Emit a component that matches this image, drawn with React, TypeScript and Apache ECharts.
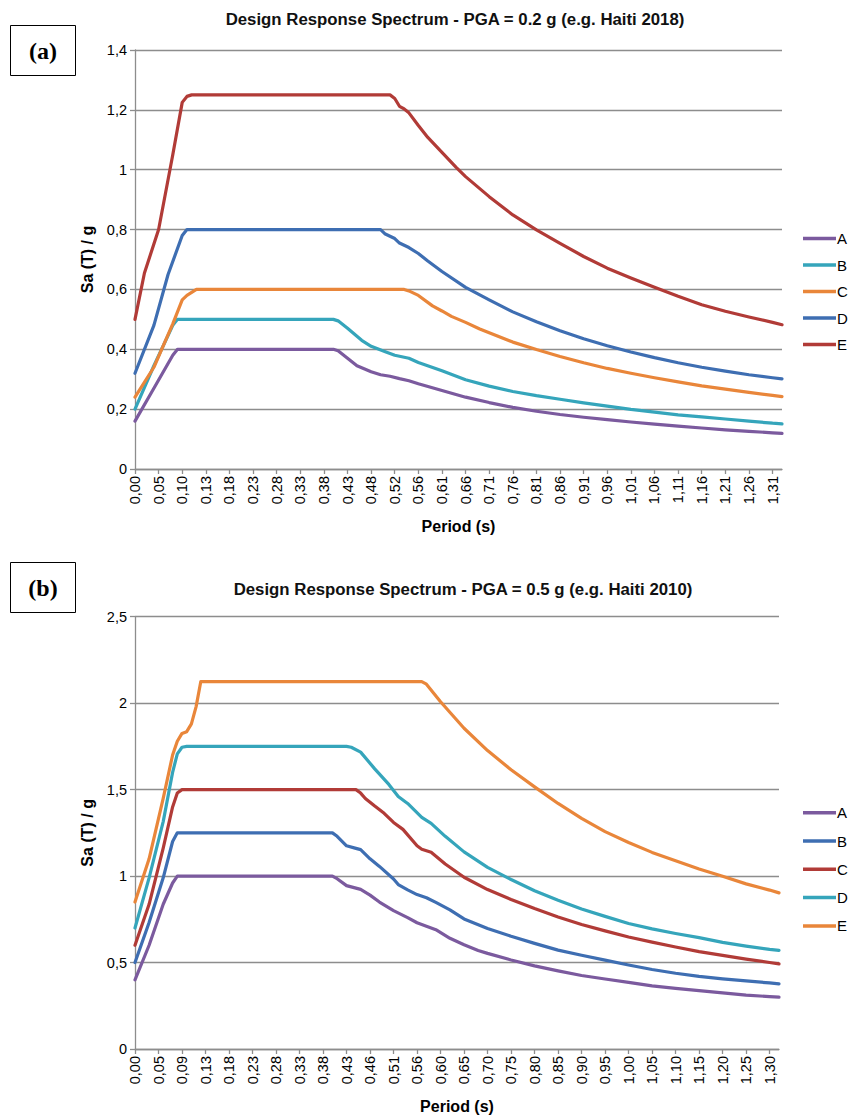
import React, { useEffect, useRef } from "react";
import * as echarts from "echarts";

// ---------- DATA ----------
const seriesNames = ["A", "B", "C", "D", "E"];

// period tick labels (one every 5 categories), chart (a) and chart (b)
const periodTicksA = ["0,00", "0,05", "0,10", "0,13", "0,18", "0,23", "0,28", "0,33", "0,38", "0,43", "0,48", "0,52", "0,56", "0,61", "0,66", "0,71", "0,76", "0,81", "0,86", "0,91", "0,96", "1,01", "1,06", "1,11", "1,16", "1,21", "1,26", "1,31"];
const periodTicksB = ["0,00", "0,05", "0,09", "0,13", "0,18", "0,23", "0,28", "0,33", "0,38", "0,43", "0,46", "0,51", "0,56", "0,60", "0,65", "0,70", "0,75", "0,80", "0,85", "0,90", "0,95", "1,00", "1,05", "1,10", "1,15", "1,20", "1,25", "1,30"];
const categoryCount = 138;
const categoriesPerTick = 5;

// Chart (a) PGA = 0.2 g : [category index, Sa/g]
const a_A = [[0, 0.16], [4, 0.27], [8, 0.38], [9, 0.4], [42, 0.4], [43, 0.395], [45, 0.37], [47, 0.345], [50, 0.325], [52, 0.315], [54, 0.31], [56, 0.302], [58, 0.295], [60, 0.285], [65, 0.262], [70, 0.24], [75, 0.222], [80, 0.206], [85, 0.193], [90, 0.182], [95, 0.173], [100, 0.165], [105, 0.157], [110, 0.15], [115, 0.143], [120, 0.137], [125, 0.131], [130, 0.126], [135, 0.121], [137, 0.119]];
const a_B = [[0, 0.2], [4, 0.345], [8, 0.48], [9, 0.5], [42, 0.5], [43, 0.495], [45, 0.47], [48, 0.43], [50, 0.41], [53, 0.392], [55, 0.38], [58, 0.37], [60, 0.356], [65, 0.328], [70, 0.298], [75, 0.277], [80, 0.259], [85, 0.245], [90, 0.233], [95, 0.221], [100, 0.21], [105, 0.199], [110, 0.19], [115, 0.181], [120, 0.174], [125, 0.167], [130, 0.16], [135, 0.153], [137, 0.151]];
const a_C = [[0, 0.24], [4, 0.34], [8, 0.485], [10, 0.565], [11, 0.58], [13, 0.6], [57, 0.6], [58, 0.595], [60, 0.58], [63, 0.545], [65, 0.528], [67, 0.51], [70, 0.49], [73, 0.468], [75, 0.455], [80, 0.424], [85, 0.399], [90, 0.376], [95, 0.355], [100, 0.336], [105, 0.32], [110, 0.305], [115, 0.291], [120, 0.278], [125, 0.267], [130, 0.256], [135, 0.246], [137, 0.242]];
const a_D = [[0, 0.32], [4, 0.48], [7, 0.65], [10, 0.78], [11, 0.8], [52, 0.8], [53, 0.785], [55, 0.77], [56, 0.755], [58, 0.74], [60, 0.72], [62, 0.695], [65, 0.66], [70, 0.607], [75, 0.565], [80, 0.525], [85, 0.492], [90, 0.462], [95, 0.435], [100, 0.412], [105, 0.391], [110, 0.372], [115, 0.355], [120, 0.34], [125, 0.327], [130, 0.315], [135, 0.305], [137, 0.301]];
const a_E = [[0, 0.5], [2, 0.655], [5, 0.8], [8, 1.05], [10, 1.225], [11, 1.245], [12, 1.25], [54, 1.25], [55, 1.238], [56, 1.212], [57, 1.203], [58, 1.19], [60, 1.148], [62, 1.108], [65, 1.058], [68, 1.008], [70, 0.977], [75, 0.91], [80, 0.849], [85, 0.799], [90, 0.754], [95, 0.71], [100, 0.671], [105, 0.638], [110, 0.607], [115, 0.577], [120, 0.549], [125, 0.527], [130, 0.508], [135, 0.49], [137, 0.482]];

// Chart (b) PGA = 0.5 g
const b_A = [[0, 0.4], [3, 0.6], [6, 0.837], [8, 0.96], [9, 1.0], [42, 1.0], [43, 0.985], [45, 0.945], [48, 0.923], [50, 0.89], [52, 0.85], [55, 0.8], [58, 0.76], [60, 0.73], [62, 0.71], [64, 0.69], [67, 0.64], [70, 0.603], [73, 0.57], [75, 0.553], [80, 0.515], [85, 0.481], [90, 0.452], [95, 0.425], [100, 0.405], [105, 0.385], [110, 0.365], [115, 0.351], [120, 0.338], [125, 0.325], [130, 0.312], [135, 0.303], [137, 0.3]];
const b_B = [[0, 0.5], [3, 0.732], [6, 0.99], [8, 1.2], [9, 1.25], [42, 1.25], [43, 1.23], [45, 1.175], [47, 1.16], [48, 1.153], [50, 1.1], [52, 1.056], [55, 0.983], [56, 0.951], [58, 0.92], [60, 0.893], [62, 0.875], [64, 0.848], [67, 0.805], [70, 0.752], [75, 0.697], [80, 0.652], [85, 0.611], [90, 0.572], [95, 0.542], [100, 0.514], [105, 0.486], [110, 0.46], [115, 0.438], [120, 0.42], [125, 0.406], [130, 0.394], [135, 0.382], [137, 0.377]];
const b_C = [[0, 0.6], [3, 0.837], [6, 1.162], [8, 1.4], [9, 1.48], [10, 1.5], [47, 1.5], [48, 1.48], [49, 1.449], [51, 1.405], [53, 1.363], [55, 1.31], [57, 1.27], [60, 1.175], [61, 1.155], [63, 1.138], [66, 1.07], [70, 0.993], [75, 0.922], [80, 0.865], [85, 0.812], [90, 0.763], [95, 0.72], [100, 0.683], [105, 0.648], [110, 0.618], [115, 0.59], [120, 0.563], [125, 0.541], [130, 0.52], [135, 0.5], [137, 0.492]];
const b_D = [[0, 0.7], [3, 0.99], [6, 1.315], [8, 1.6], [9, 1.707], [10, 1.745], [11, 1.75], [45, 1.75], [46, 1.745], [48, 1.717], [51, 1.62], [54, 1.53], [56, 1.46], [58, 1.42], [61, 1.34], [63, 1.305], [66, 1.23], [70, 1.14], [75, 1.05], [80, 0.98], [85, 0.915], [90, 0.86], [95, 0.81], [100, 0.767], [105, 0.726], [110, 0.695], [115, 0.668], [120, 0.644], [125, 0.617], [130, 0.595], [135, 0.576], [137, 0.57]];
const b_E = [[0, 0.85], [3, 1.1], [6, 1.449], [8, 1.7], [9, 1.78], [10, 1.825], [11, 1.835], [12, 1.88], [13, 1.98], [14, 2.125], [61, 2.125], [62, 2.11], [65, 2.008], [70, 1.855], [75, 1.726], [80, 1.615], [85, 1.516], [90, 1.42], [95, 1.334], [100, 1.257], [105, 1.194], [110, 1.137], [115, 1.089], [120, 1.041], [125, 0.999], [130, 0.955], [135, 0.919], [137, 0.903]];

// ---------- STYLE ----------
const PURPLE = "#7b5a9e";
const CYAN = "#35a5bb";
const ORANGE = "#e9863a";
const BLUE = "#3e6eb2";
const RED = "#b13b37";
const colorsA = [PURPLE, CYAN, ORANGE, BLUE, RED];
const colorsB = [PURPLE, BLUE, RED, CYAN, ORANGE];
const FONT = "'Liberation Sans', Arial, sans-serif";
const GRID_GRAY = "#8d8d8d";

function buildCategories(ticks: string[]) {
  return Array.from({ length: categoryCount }, (_, i) =>
    i % categoriesPerTick === 0 && ticks[i / categoriesPerTick] !== undefined
      ? ticks[i / categoriesPerTick]
      : ""
  );
}

function fmt(v: number) {
  return String(Number(v.toFixed(2))).replace(".", ",");
}

type Cfg = {
  title: string;
  titleX: number;
  titleY: number;
  tag: string;
  tagY: number;
  grid: { left: number; top: number; width: number; height: number };
  yMax: number;
  yInterval: number;
  ticks: string[];
  data: number[][][];
  colors: string[];
  legendTop: number;
  legendGap: number;
};

function buildOption(c: Cfg): any {
  return {
    animation: false,
    backgroundColor: "#ffffff",
    title: {
      text: c.title,
      left: c.titleX,
      top: c.titleY,
      textAlign: "center",
      padding: 0,
      textStyle: { fontFamily: FONT, fontSize: 16.8, fontWeight: "bold", color: "#111" },
    },
    graphic: [
      {
        type: "rect",
        shape: { x: 10.5, y: c.tagY + 0.5, width: 65, height: 50 },
        style: { fill: "#fff", stroke: "#000", lineWidth: 1 },
      },
      {
        type: "text",
        x: 43,
        y: c.tagY + 26,
        style: {
          text: c.tag,
          fill: "#000",
          font: "bold 24px 'Liberation Serif', 'DejaVu Serif', serif",
          textAlign: "center",
          textVerticalAlign: "middle",
        },
      },
    ],
    legend: {
      orient: "vertical",
      left: 803,
      top: c.legendTop,
      padding: 0,
      icon: "rect",
      itemWidth: 33,
      itemHeight: 3.5,
      itemGap: c.legendGap,
      selectedMode: false,
      data: seriesNames,
      textStyle: { fontFamily: FONT, fontSize: 15, color: "#000", padding: [0, 0, 0, -4] },
    },
    grid: { ...c.grid, containLabel: false },
    xAxis: {
      type: "category",
      data: buildCategories(c.ticks),
      boundaryGap: false,
      axisLine: { show: true, lineStyle: { color: GRID_GRAY, width: 1.3 } },
      axisTick: { show: true, interval: categoriesPerTick - 1, length: 5, lineStyle: { color: GRID_GRAY, width: 1.3 } },
      axisLabel: {
        interval: categoriesPerTick - 1,
        rotate: 90,
        margin: 7,
        fontFamily: FONT,
        fontSize: 14.5,
        color: "#000",
      },
      splitLine: { show: false },
      name: "Period (s)",
      nameLocation: "middle",
      nameGap: 49,
      nameTextStyle: { fontFamily: FONT, fontSize: 16, fontWeight: "bold", color: "#000" },
    },
    yAxis: {
      type: "value",
      min: 0,
      max: c.yMax,
      interval: c.yInterval,
      axisLine: { show: true, lineStyle: { color: GRID_GRAY, width: 1.3 } },
      axisTick: { show: true, length: 5, lineStyle: { color: GRID_GRAY, width: 1.3 } },
      axisLabel: { formatter: fmt, margin: 8, fontFamily: FONT, fontSize: 14.5, color: "#000" },
      splitLine: { show: true, lineStyle: { color: GRID_GRAY, width: 1.3 } },
      name: "Sa (T) / g",
      nameLocation: "middle",
      nameGap: 39,
      nameRotate: 90,
      nameTextStyle: { fontFamily: FONT, fontSize: 16, fontWeight: "bold", color: "#000" },
    },
    series: seriesNames.map((name, i) => ({
      name,
      type: "line",
      symbol: "none",
      data: c.data[i],
      lineStyle: { width: 3.2, color: c.colors[i], join: "round", cap: "round" },
      itemStyle: { color: c.colors[i] },
    })),
  };
}

const optionA = buildOption({
  title: "Design Response Spectrum - PGA = 0.2 g (e.g. Haiti 2018)",
  titleX: 455,
  titleY: 11,
  tag: "(a)",
  tagY: 25,
  grid: { left: 135, top: 50, width: 647, height: 419 },
  yMax: 1.4,
  yInterval: 0.2,
  ticks: periodTicksA,
  data: [a_A, a_B, a_C, a_D, a_E],
  colors: colorsA,
  legendTop: 231,
  legendGap: 11.5,
});

const optionB = buildOption({
  title: "Design Response Spectrum - PGA = 0.5 g (e.g. Haiti 2010)",
  titleX: 463,
  titleY: 36,
  tag: "(b)",
  tagY: 17,
  grid: { left: 135, top: 71.7, width: 644, height: 436 },
  yMax: 2.5,
  yInterval: 0.5,
  ticks: periodTicksB,
  data: [b_A, b_B, b_C, b_D, b_E],
  colors: colorsB,
  legendTop: 260.2,
  legendGap: 13.3,
});

function ChartBox({ option, top, height }: { option: any; top: number; height: number }) {
  const ref = useRef<HTMLDivElement>(null);
  useEffect(() => {
    if (!ref.current) return;
    const chart = echarts.init(ref.current, undefined, { renderer: "svg" });
    chart.setOption(option);
    return () => chart.dispose();
  }, [option]);
  return (
    <div
      ref={ref}
      style={{ position: "absolute", left: 0, top, width: 850, height, overflow: "hidden" }}
    />
  );
}

export default function App() {
  useEffect(() => {
    document.body.style.margin = "0";
  }, []);
  return (
    <div style={{ position: "relative", width: 850, height: 1119, background: "#fff" }}>
      <ChartBox option={optionA} top={0} height={545} />
      <ChartBox option={optionB} top={545} height={574} />
    </div>
  );
}
